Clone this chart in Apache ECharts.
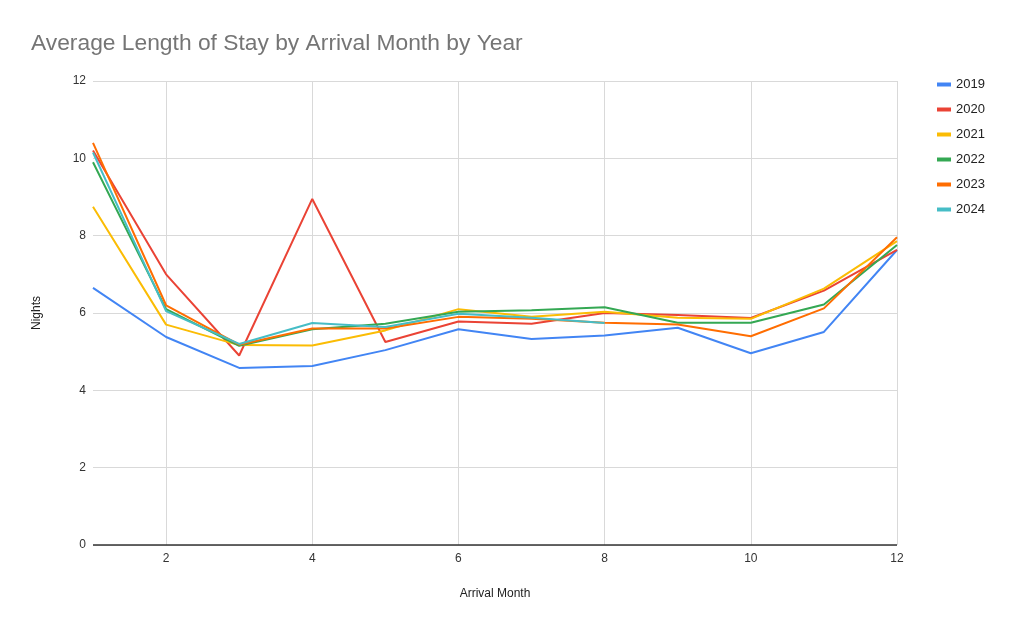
<!DOCTYPE html>
<html><head><meta charset="utf-8">
<script src="https://cdn.jsdelivr.net/npm/echarts@6/dist/echarts.min.js"></script>
<style>html,body{margin:0;padding:0;background:#fff}#c{width:1024px;height:631px}</style>
</head><body><div id="c"></div>
<script>
const months = [1,2,3,4,5,6,7,8,9,10,11,12];
const years = ['2019','2020','2021','2022','2023','2024'];
const y2019 = [6.65,5.38,4.58,4.63,5.04,5.58,5.33,5.42,5.62,4.96,5.51,7.63];
const y2020 = [10.2,7.0,4.9,8.95,5.25,5.78,5.72,6.0,5.95,5.87,6.58,7.63];
const y2021 = [8.75,5.7,5.17,5.16,5.55,6.1,5.9,6.03,5.88,5.85,6.63,7.86];
const y2022 = [9.9,6.1,5.15,5.58,5.72,6.03,6.07,6.15,5.75,5.75,6.22,7.76];
const y2023 = [10.4,6.2,5.18,5.6,5.6,5.9,5.85,5.75,5.7,5.4,6.12,7.96];
const y2024 = [10.15,6.05,5.2,5.74,5.64,5.98,5.88,5.74];
const yTicks = [0,2,4,6,8,10,12];
const colors = ['#4285f4','#ea4335','#fbbc04','#34a853','#ff6d01','#46bdc6'];
const seriesValues = [y2019,y2020,y2021,y2022,y2023,y2024];

const chart = echarts.init(document.getElementById('c'), null, {renderer:'canvas'});
const font = '"Liberation Sans", Arial, sans-serif';
chart.setOption({
  animation:false,
  color: colors,
  textStyle:{fontFamily:font},
  title:{text:'Average Length of Stay by Arrival Month by Year', left:26, top:27,
    textStyle:{fontSize:22.8, fontWeight:'normal', color:'#757575', fontFamily:font}},
  legend:{orient:'vertical', left:932, top:72, itemWidth:14, itemHeight:4, itemGap:10,
    icon:'rect', textStyle:{fontSize:13, color:'#222', fontFamily:font, lineHeight:15},
    data: years},
  grid:{left:93, right:127, top:81, bottom:86, containLabel:false},
  xAxis:{type:'value', min:1, max:12, interval:1,
    name:'Arrival Month', nameLocation:'middle', nameGap:43,
    nameTextStyle:{fontSize:12, color:'#222', fontFamily:font},
    axisLine:{show:false}, axisTick:{show:false},
    axisLabel:{fontSize:12, color:'#333', margin:8, showMinLabel:true, fontFamily:font,
      formatter: v => (v % 2 === 0 ? String(v) : '')},
    splitLine:{show:true, showMinLine:true, showMaxLine:true,
      lineStyle:{color:['rgba(0,0,0,0)','#d9d9d9'], width:1}}},
  yAxis:{type:'value', min:0, max:12, interval:2,
    name:'Nights', nameLocation:'middle', nameGap:50,
    nameTextStyle:{fontSize:12, color:'#222', fontFamily:font},
    axisLine:{show:false}, axisTick:{show:false},
    axisLabel:{fontSize:12, color:'#333', margin:7, fontFamily:font,
      formatter: v => (yTicks.indexOf(v) >= 0 ? String(v) : '')},
    splitLine:{show:true, lineStyle:{color:'#d9d9d9', width:1}}},
  series: years.map((y,i) => ({
    name:y, type:'line', showSymbol:false, symbol:'none',
    lineStyle:{width:2, color:colors[i]}, itemStyle:{color:colors[i]},
    data: seriesValues[i].map((v,j) => [months[j], v]),
    markLine: i === 0 ? {silent:true, symbol:'none', label:{show:false},
      lineStyle:{color:'#333', width:1.5, type:'solid'},
      data:[{yAxis:0}]} : undefined
  }))
});
</script></body></html>
